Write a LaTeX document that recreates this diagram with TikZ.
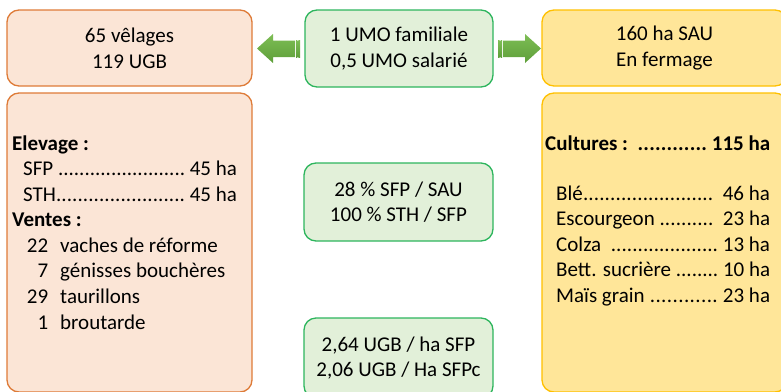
\documentclass[tikz,border=0pt]{standalone}
\usepackage{fontspec}
\setmainfont{Carlito}
\definecolor{ofill}{HTML}{FBE5D6}
\definecolor{oline}{HTML}{DE7B38}
\definecolor{gfill}{HTML}{E2F0D9}
\definecolor{gline}{HTML}{2DB55D}
\definecolor{yfill}{HTML}{FFE699}
\definecolor{yline}{HTML}{FFC000}
\definecolor{atop}{HTML}{7DBD55}
\definecolor{abot}{HTML}{5E9F39}
\newcommand\myleaders{\xleaders\hbox{.}\hfill}
\begin{document}
\begin{tikzpicture}[x=1pt,y=-1pt,
  box/.style={draw, line width=1.3pt, rounded corners=12pt, inner sep=0pt,
    font=\fontsize{21}{25.6}\selectfont, align=center},
  obox/.style={box, draw=oline, fill=ofill},
  gbox/.style={box, draw=gline, fill=gfill},
  ybox/.style={box, draw=yline, fill=yfill},
  txt/.style={inner sep=0pt, font=\fontsize{21}{25.6}\selectfont, anchor=base west},
  arrowfill/.style={top color=atop, bottom color=abot, draw=none}
]
\useasboundingbox (0,0) rectangle (781,391);
\clip (0,0) rectangle (781,391);

% top row
\node[obox, minimum width=245pt, minimum height=76pt] (lt) at (129.5,48) {65 vêlages\\119 UGB};
\node[gbox, minimum width=188pt, minimum height=77pt] (mt) at (399,48.5) {1 UMO familiale\\0,5 UMO salarié};
\node[ybox, minimum width=245pt, minimum height=76pt] (rt) at (664.5,48) {160 ha SAU\\En fermage};

% bottom boxes
\node[obox, minimum width=245pt, minimum height=299pt] (lb) at (129.5,242.5) {};
\node[ybox, minimum width=245pt, minimum height=299pt] (rb) at (664.5,242.5) {};
\node[gbox, minimum width=189pt, minimum height=78pt] (m2) at (398.5,202) {28 \% SFP / SAU\\100 \% STH / SFP};
\node[gbox, minimum width=189pt, minimum height=80pt] (m3) at (398.5,358) {2,64 UGB / ha SFP\\2,06 UGB / Ha SFPc};

% arrows (striped)
\shade[arrowfill] (257,48.5) -- (273,34) -- (273,40.5) -- (295,40.5) -- (295,57) -- (273,57) -- (273,63) -- cycle;
\shade[arrowfill] (296,40.5) rectangle (297.3,57);
\shade[arrowfill] (298.3,40.5) rectangle (300,57);
\shade[arrowfill] (541,48.5) -- (525,34) -- (525,40.5) -- (503,40.5) -- (503,57) -- (525,57) -- (525,63) -- cycle;
\shade[arrowfill] (502,40.5) rectangle (500.7,57);
\shade[arrowfill] (499.7,40.5) rectangle (498,57);

% left list
\node[txt] (l1) at (12,150) {\bfseries Elevage :};
\node[txt] (l2) at (23,175.5) {\makebox[214pt]{SFP \myleaders\ 45 ha}};
\node[txt] (l3) at (23,201) {\makebox[214pt]{STH\myleaders\ 45 ha}};
\node[txt] (l4) at (12,226.5) {\bfseries Ventes :};
\node[txt] (l5) at (12,252) {\makebox[36pt][r]{22}\hspace{12pt}vaches de réforme};
\node[txt] (l6) at (12,277.5) {\makebox[36pt][r]{7}\hspace{12pt}génisses bouchères};
\node[txt] (l7) at (12,303.5) {\makebox[36pt][r]{29}\hspace{12pt}taurillons};
\node[txt] (l8) at (12,329) {\makebox[36pt][r]{1}\hspace{12pt}broutarde};

% right list
\node[txt] (r1) at (545,150) {\bfseries\makebox[225pt]{Cultures :\ \ \myleaders\ 115 ha}};
\node[txt] (r2) at (556,200) {\makebox[214pt]{Blé\myleaders\ \ 46 ha}};
\node[txt] (r3) at (556,225.5) {\makebox[214pt]{Escourgeon \myleaders\ \ 23 ha}};
\node[txt] (r4) at (556,251) {\makebox[214pt]{Colza \ \myleaders\ 13 ha}};
\node[txt] (r5) at (556,276.5) {\makebox[214pt]{Bett. sucrière \myleaders\ 10 ha}};
\node[txt] (r6) at (556,302) {\makebox[214pt]{Maïs grain \myleaders\ 23 ha}};
\end{tikzpicture}
\end{document}
